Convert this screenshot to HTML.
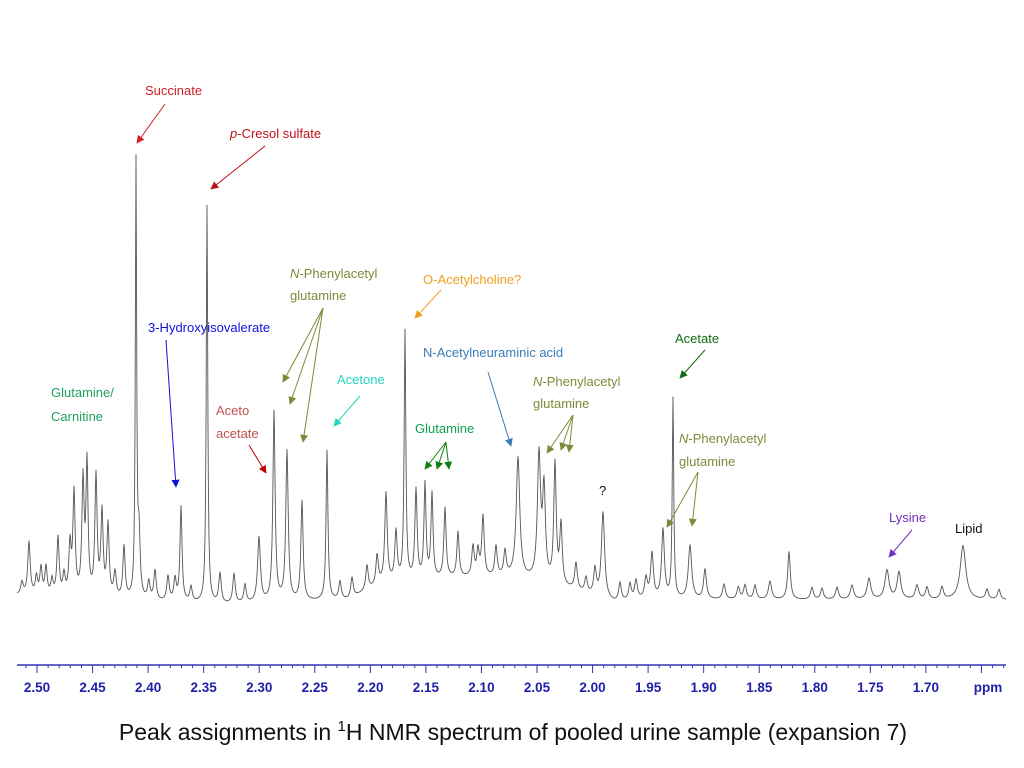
<!DOCTYPE html>
<html><head><meta charset="utf-8">
<style>
body{margin:0;background:#fff;width:1024px;height:768px;overflow:hidden;font-family:"Liberation Sans",sans-serif}
svg{position:absolute;left:0;top:0}
</style></head>
<body>
<svg id="chart" width="1024" height="768" xmlns="http://www.w3.org/2000/svg">
<g id="axis"></g>
<path id="spec" fill="none" stroke="#555" stroke-width="0.9"/>
<text x="513" y="740" text-anchor="middle" font-size="23" fill="#111">Peak assignments in <tspan font-size="15" dy="-9">1</tspan><tspan dy="9">H NMR spectrum of pooled urine sample (expansion 7)</tspan></text>
</svg>
<script>
// peak positions (ppm), heights (intensity units above baseline), widths (ppm hwhm)
const peakPpm = [2.5135,2.5072,2.5005,2.4964,2.4919,2.4865,2.4811,2.4757,2.4703,2.4667,2.4586,2.4550,2.4469,2.4415,2.4361,2.4298,2.4217,2.4109,2.4082,2.3994,2.3938,2.3821,2.3758,2.3704,2.3614,2.3470,2.3353,2.3227,2.3128,2.3002,2.2867,2.2750,2.2615,2.2390,2.2273,2.2165,2.2030,2.1939,2.1859,2.1769,2.1688,2.1589,2.1508,2.1445,2.1328,2.1211,2.1076,2.1031,2.0986,2.0869,2.0788,2.0671,2.0482,2.0437,2.0338,2.0284,2.0149,2.0059,1.9978,1.9906,1.9753,1.9663,1.9609,1.9519,1.9465,1.9366,1.9276,1.9123,1.8988,1.8817,1.8688,1.8628,1.8538,1.8403,1.8232,1.8025,1.7935,1.7800,1.7665,1.7512,1.7350,1.7242,1.7080,1.6990,1.6855,1.6666,1.6450,1.6342];
const peakHeight = [12,53,18,27,28,15,58,20,49,102,114,130,120,83,72,25,52,435,60,18,30,25,22,95,15,398,30,30,18,65,190,150,100,150,18,20,25,30,90,50,250,90,95,85,70,45,30,25,60,30,25,120,125,90,120,60,27,15,26,86,18,16,19,20,45,69,200,54,30,15,12,14,14,18,48,12,11,12,14,21,29,27,14,12,12,54,10,10];
const peakWidth = [0.0013,0.0013,0.0012,0.0012,0.0012,0.0012,0.0012,0.0012,0.0012,0.0012,0.0012,0.0011,0.0012,0.0012,0.0012,0.0013,0.0012,0.0007,0.0012,0.0013,0.0013,0.0013,0.0013,0.0011,0.0013,0.0008,0.0013,0.0013,0.0013,0.0015,0.0012,0.0013,0.0012,0.0010,0.0013,0.0013,0.0013,0.0013,0.0013,0.0013,0.0009,0.0012,0.0011,0.0011,0.0012,0.0012,0.0013,0.0013,0.0013,0.0013,0.0013,0.0019,0.0017,0.0015,0.0013,0.0013,0.0014,0.0014,0.0014,0.0017,0.0014,0.0014,0.0015,0.0015,0.0015,0.0015,0.0008,0.0018,0.0015,0.0015,0.0015,0.0015,0.0015,0.0017,0.0014,0.0015,0.0015,0.0016,0.0018,0.0020,0.0022,0.0020,0.0018,0.0016,0.0016,0.0030,0.0015,0.0015];
const baselinePpm = [2.52,2.40,2.33,2.26,2.22,2.19,2.12,2.07,2.02,1.98,1.95,1.62];
const baselineVal = [5,-2,-5,-2,0,15,22,22,10,-3,0,0];
const tickLabels = ["2.50","2.45","2.40","2.35","2.30","2.25","2.20","2.15","2.10","2.05","2.00","1.95","1.90","1.85","1.80","1.75","1.70"];

const X = p => 37 + (2.50 - p) * 1111.1;
const BASE_Y = 600;
const Y = v => BASE_Y - v;
const NS = "http://www.w3.org/2000/svg";

function baseAt(p){
  for(let i=0;i<baselinePpm.length-1;i++){
    const a=baselinePpm[i], b=baselinePpm[i+1];
    if(p<=a && p>=b){const t=(a-p)/(a-b);return baselineVal[i]+(baselineVal[i+1]-baselineVal[i])*t;}
  }
  return 0;
}
let d="";
for(let px=17;px<=1006;px+=0.5){
  const p = 2.50 - (px-37)/1111.1;
  let v = baseAt(p);
  for(let i=0;i<peakPpm.length;i++){
    const w=peakWidth[i], dx=p-peakPpm[i];
    v += peakHeight[i]*w*w/(dx*dx+w*w);
  }
  d += (d?"L":"M")+px.toFixed(1)+","+Y(v).toFixed(1);
}
document.getElementById("spec").setAttribute("d",d);

const ax=document.getElementById("axis");
function mk(tag,attrs,parent){const e=document.createElementNS(NS,tag);for(const k in attrs)e.setAttribute(k,attrs[k]);parent.appendChild(e);return e;}
const line=mk("line",{x1:17,x2:1006,y1:665,y2:665,stroke:"#3333b0","stroke-width":1.5},ax);


for(let k=0;k<=88;k++){
  const p=2.51-k*0.01; const x=X(p);
  if(x<17||x>1006) continue;
  const r=Math.round(p*100)%5;
  const major=(r===0);
  const t=mk("line",{x1:x,x2:x,y1:665,y2:major?673:668,stroke:"#3333b0","stroke-width":1},ax);
  
  
}
tickLabels.forEach(s=>{
  const t=mk("text",{x:X(parseFloat(s)),y:692,"text-anchor":"middle","font-size":13.5,"font-weight":"bold",fill:"#2020a8"},ax);
  t.textContent=s;
  
  
});
const u=mk("text",{x:988,y:692,"text-anchor":"middle","font-size":13.5,"font-weight":"bold",fill:"#2020a8"},ax);
u.textContent="ppm";


</script>
<svg width="1024" height="768" style="position:absolute;left:0;top:0" font-family="Liberation Sans, sans-serif" font-size="13">
<defs>
<marker id="a" viewBox="0 0 10 10" refX="9" refY="5" markerWidth="8" markerHeight="8" orient="auto"><path d="M0,0L10,5L0,10z" fill="context-stroke"/></marker>
</defs>
<g><text x="145" y="95" fill="#d0202a">Succinate</text><line x1="165" y1="104" x2="137" y2="143" stroke="#d0202a" marker-end="url(#a)"/></g>
<g><text x="230" y="138" fill="#c0101a"><tspan font-style="italic">p</tspan>-Cresol sulfate</text><line x1="265" y1="146" x2="211" y2="189" stroke="#c0101a" marker-end="url(#a)"/></g>
<g stroke="#7a8c3a"><text x="290" y="278" fill="#7a8c3a" stroke="none"><tspan font-style="italic">N</tspan>-Phenylacetyl</text><text x="290" y="300" fill="#7a8c3a" stroke="none">glutamine</text><line x1="323" y1="308" x2="283" y2="382" marker-end="url(#a)"/><line x1="323" y1="308" x2="290" y2="404" marker-end="url(#a)"/><line x1="323" y1="308" x2="303" y2="442" marker-end="url(#a)"/></g>
<g><text x="423" y="284" fill="#f0a020">O-Acetylcholine?</text><line x1="441" y1="290" x2="415" y2="318" stroke="#f0a020" marker-end="url(#a)"/></g>
<g><text x="148" y="332" fill="#1010e0">3-Hydroxyisovalerate</text><line x1="166" y1="340" x2="176" y2="487" stroke="#1010e0" marker-end="url(#a)"/></g>
<g><text x="337" y="384" fill="#20d8c0">Acetone</text><line x1="360" y1="396" x2="334" y2="426" stroke="#20d8c0" marker-end="url(#a)"/></g>
<g><text x="51" y="397" fill="#20a060">Glutamine/</text><text x="51" y="421" fill="#20a060">Carnitine</text></g>
<g><text x="216" y="415" fill="#c0504d">Aceto</text><text x="216" y="438" fill="#c0504d">acetate</text><line x1="249" y1="445" x2="266" y2="473" stroke="#c00000" marker-end="url(#a)"/></g>
<g><text x="423" y="357" fill="#3d7ab8">N-Acetylneuraminic acid</text><line x1="488" y1="372" x2="511" y2="446" stroke="#3d7ab8" marker-end="url(#a)"/></g>
<g stroke="#108010"><text x="415" y="433" fill="#10a050" stroke="none">Glutamine</text><line x1="446" y1="442" x2="425" y2="469" marker-end="url(#a)"/><line x1="446" y1="442" x2="437" y2="469" marker-end="url(#a)"/><line x1="446" y1="442" x2="449" y2="469" marker-end="url(#a)"/></g>
<g stroke="#7a8c3a"><text x="533" y="386" fill="#7a8c3a" stroke="none"><tspan font-style="italic">N</tspan>-Phenylacetyl</text><text x="533" y="408" fill="#7a8c3a" stroke="none">glutamine</text><line x1="573" y1="415" x2="547" y2="453" marker-end="url(#a)"/><line x1="573" y1="415" x2="561" y2="450" marker-end="url(#a)"/><line x1="573" y1="415" x2="569" y2="452" marker-end="url(#a)"/></g>
<g><text x="675" y="343" fill="#106a10">Acetate</text><line x1="705" y1="350" x2="680" y2="378" stroke="#106a10" marker-end="url(#a)"/></g>
<g stroke="#7a8c3a"><text x="679" y="443" fill="#7a8c3a" stroke="none"><tspan font-style="italic">N</tspan>-Phenylacetyl</text><text x="679" y="466" fill="#7a8c3a" stroke="none">glutamine</text><line x1="698" y1="472" x2="667" y2="527" marker-end="url(#a)"/><line x1="698" y1="472" x2="692" y2="526" marker-end="url(#a)"/></g>
<text x="599" y="495" fill="#111">?</text>
<g><text x="889" y="522" fill="#7030c0">Lysine</text><line x1="912" y1="530" x2="889" y2="557" stroke="#7030c0" marker-end="url(#a)"/></g>
<text x="955" y="533" fill="#111">Lipid</text>
</svg>
</body></html>
